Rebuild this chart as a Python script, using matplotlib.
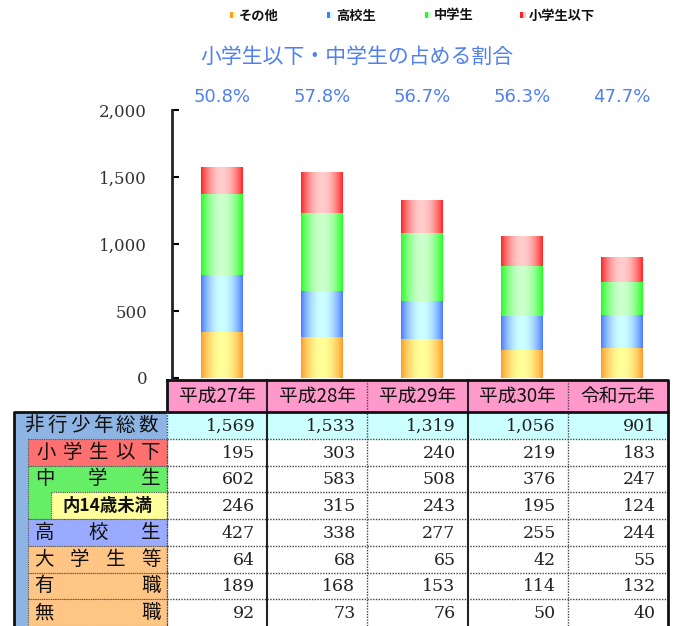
import matplotlib
matplotlib.use('Agg')

import matplotlib.pyplot as plt
import numpy as np
from matplotlib.colors import LinearSegmentedColormap
from matplotlib.patches import Rectangle

plt.rcParams['font.family'] = ['Noto Sans CJK JP', 'DejaVu Sans']

# データ
years = ['平成27年', '平成28年', '平成29年', '平成30年', '令和元年']
total = [1569, 1533, 1319, 1056, 901]
shogaku = [195, 303, 240, 219, 183]
chugaku = [602, 583, 508, 376, 247]
under14 = [246, 315, 243, 195, 124]
koko = [427, 338, 277, 255, 244]
daigaku = [64, 68, 65, 42, 55]
yushoku = [189, 168, 153, 114, 132]
mushoku = [92, 73, 76, 50, 40]
yticks = [0, 500, 1000, 1500, 2000]
ytick_labels = ['0', '500', '1,000', '1,500', '2,000']

sonota = np.array(daigaku) + np.array(yushoku) + np.array(mushoku)
ratio = (np.array(shogaku) + np.array(chugaku)) / np.array(total) * 100

series = [
    ('その他', sonota, '#FF9A28', '#FFFF99'),
    ('高校生', np.array(koko), '#4A78FF', '#CCFFFF'),
    ('中学生', np.array(chugaku), '#22FF22', '#CCFFCC'),
    ('小学生以下', np.array(shogaku), '#FF2222', '#FFCCCC'),
]

W, H = 675, 626
fig = plt.figure(figsize=(W / 100, H / 100), dpi=100)

# 表用（ピクセル座標）
tab = fig.add_axes([0, 0, 1, 1], zorder=0)
tab.set_xlim(0, W)
tab.set_ylim(H, 0)
tab.axis('off')

# グラフ
ax = fig.add_axes([172 / W, 1 - 378 / H, 500 / W, 268 / H], zorder=1)
ax.patch.set_alpha(0)

t = np.linspace(0, 1, 64)
prof = np.sin(np.pi * t) ** 0.8
bw = 0.42
x = np.arange(len(years)) + 0.5
bottom = np.zeros(len(years))
for name, vals, edge, mid in series:
    cmap = LinearSegmentedColormap.from_list(name, [edge, mid])
    for i in range(len(years)):
        ax.imshow(prof[None, :], cmap=cmap, vmin=0, vmax=1, aspect='auto',
                  extent=(x[i] - bw / 2, x[i] + bw / 2, bottom[i], bottom[i] + vals[i]),
                  interpolation='bilinear', zorder=2)
    bottom += vals

ax.set_xlim(0, 5)
ax.set_ylim(0, 2000)
ax.set_yticks(yticks)
ax.set_yticklabels(ytick_labels, family='DejaVu Serif', fontsize=12, color='#333333')
ax.tick_params(axis='y', direction='in', length=5, width=1.5, pad=18)
ax.set_xticks([])
for s in ['top', 'right', 'bottom']:
    ax.spines[s].set_visible(False)
ax.spines['left'].set_linewidth(2)
ax.spines['left'].set_color('#222222')

# 割合
blue = '#5080F0'
for i, r in enumerate(ratio):
    ax.text(x[i], 1.048, f'{r:.1f}%', transform=ax.get_xaxis_transform(),
            ha='center', va='center', fontsize=13, color=blue, family='DejaVu Sans')
tab.text(357, 57, '小学生以下・中学生の占める割合', ha='center', va='center',
         fontsize=15, color=blue)

# 凡例
leg_x = [230, 327, 425, 520]
for (name, vals, edge, mid), lx in zip(series, leg_x):
    tab.add_patch(Rectangle((lx, 12), 3, 6, fc=edge, ec='none'))
    tab.add_patch(Rectangle((lx + 3, 12), 3, 6, fc=mid, ec='none'))
    tab.text(lx + 9, 15.5, name, ha='left', va='center', fontsize=9.5,
             weight='bold', color='#111111')

# 表
cx0, cw = 167, 100.2
hy0, hy1 = 380, 412
rh = 26.75
rows = [total, shogaku, chugaku, under14, koko, daigaku, yushoku, mushoku]

for j, yr in enumerate(years):
    tab.add_patch(Rectangle((cx0 + j * cw, hy0), cw, hy1 - hy0, fc='#FF99CC', ec='none'))
    tab.text(cx0 + (j + 0.5) * cw, (hy0 + hy1) / 2, yr, ha='center', va='center',
             fontsize=13.5, color='#111111')

for k, vals in enumerate(rows):
    y0 = hy1 + k * rh
    fc = '#CCFFFF' if k == 0 else 'white'
    tab.add_patch(Rectangle((cx0, y0), cw * 5, rh, fc=fc, ec='none'))
    for j, v in enumerate(vals):
        tab.text(cx0 + (j + 1) * cw - 12, y0 + rh / 2 + 1, f'{v:,}', ha='right',
                 va='center', family='DejaVu Serif', fontsize=12.5, color='#222222')
    if k > 0:
        tab.plot([cx0, cx0 + 5 * cw], [y0, y0], color='#444444', lw=1, ls=(0, (1, 1)))

# 行見出し
tab.add_patch(Rectangle((14, hy1), cx0 - 14, H - hy1, fc='#8DB4E2', ec='none'))
lab_boxes = [
    (28, 1, 1, '#FF7070'),
    (28, 2, 2, '#66EE66'),
    (51, 3, 1, '#FFFF99'),
    (28, 4, 1, '#99AAFF'),
    (28, 5, 1, '#FFC585'),
    (28, 6, 1, '#FFC585'),
    (28, 7, 1, '#FFC585'),
]
for bx, k, n, fc in lab_boxes:
    tab.add_patch(Rectangle((bx, hy1 + k * rh), cx0 - bx, n * rh, fc=fc,
                            ec='#555555', lw=0.8, ls=(0, (1, 1))))


def spread(chars, xa, xb, k, size=14, weight='normal'):
    yc = hy1 + (k + 0.5) * rh
    n = len(chars)
    for m, c in enumerate(chars):
        xc = xa + (xb - xa) * m / (n - 1)
        tab.text(xc, yc, c, ha='center', va='center', fontsize=size,
                 weight=weight, color='#111111')


spread('非行少年総数', 34, 148, 0)
spread('小学生以下', 46, 151, 1)
spread('中学生', 45, 151, 2)
tab.text(107, hy1 + 3.5 * rh, '内14歳未満', ha='center', va='center', fontsize=12.5,
         weight='bold', color='#111111')
spread('高校生', 45, 151, 4)
spread('大学生等', 44, 151, 5)
spread('有職', 44, 151, 6)
spread('無職', 44, 151, 7)

# 罫線
for j in range(1, 5):
    xx = cx0 + j * cw
    if j in (1, 3):
        tab.plot([xx, xx], [hy0, H], color='#222222', lw=1.5)
    else:
        tab.plot([xx, xx], [hy0, H], color='#444444', lw=1, ls=(0, (1, 1)))
tab.plot([cx0, cx0 + 5 * cw, cx0 + 5 * cw, cx0, cx0], [hy0, hy0, hy1, hy1, hy0],
         color='#111111', lw=2)
tab.plot([cx0 + 5 * cw, cx0 + 5 * cw], [hy1, H], color='#111111', lw=2)
tab.plot([14, 14, cx0], [H, hy1, hy1], color='#111111', lw=2)
tab.plot([cx0, cx0], [hy1, H], color='#444444', lw=1, ls=(0, (1, 1)))

fig.savefig('out.png', dpi=100)
